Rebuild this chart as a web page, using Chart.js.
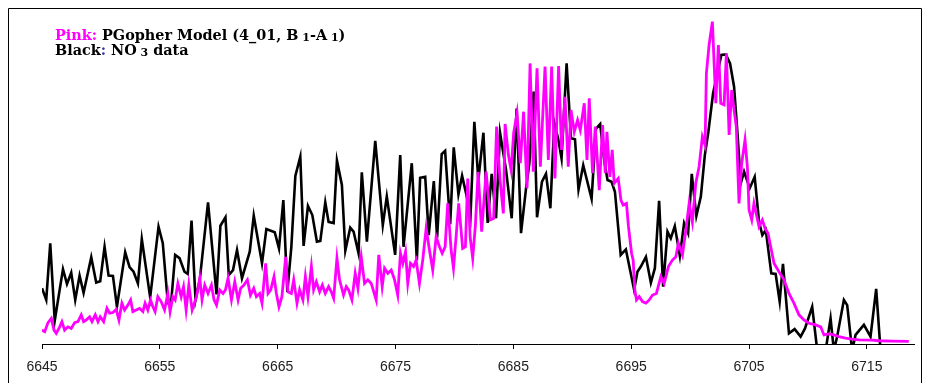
<!DOCTYPE html>
<html>
<head>
<meta charset="utf-8">
<script src="https://cdn.jsdelivr.net/npm/chart.js@4"></script>
<style>
  html, body { margin: 0; padding: 0; background: #fff; }
  #wrap { width: 937px; height: 383px; }
</style>
</head>
<body>
<div id="wrap"><canvas id="chart" width="937" height="383"></canvas></div>
<script>
// NO3 spectrum (black) vs PGopher model (pink), wavelength in Angstrom
const tickValues = [6645, 6655, 6665, 6675, 6685, 6695, 6705, 6715]

const blackWl = [
  6645.00, 6645.36, 6645.70, 6646.08, 6646.78, 6647.12, 6647.48, 6647.82, 6648.19, 6648.53,
  6649.18, 6649.60, 6649.94, 6650.31, 6650.65, 6651.02, 6651.36, 6652.06, 6652.43, 6652.77,
  6653.14, 6653.47, 6654.18, 6654.89, 6655.25, 6655.68, 6655.96, 6656.30, 6656.67, 6657.09,
  6657.37, 6657.69, 6658.03, 6658.39, 6659.09, 6659.81, 6660.14, 6660.57, 6660.85, 6661.21,
  6661.55, 6661.97, 6662.63, 6662.97, 6663.67, 6664.04, 6664.75, 6665.11, 6665.48, 6665.82,
  6666.16, 6666.50, 6666.92, 6667.20, 6667.57, 6667.94, 6668.33, 6668.62, 6669.04, 6669.32,
  6669.75, 6670.03, 6670.45, 6670.74, 6671.16, 6671.44, 6671.86, 6672.14, 6672.57, 6673.28,
  6673.92, 6674.26, 6674.97, 6675.40, 6675.68, 6676.38, 6676.81, 6677.09, 6677.52, 6677.82,
  6678.25, 6678.53, 6678.92, 6679.21, 6679.64, 6679.94, 6680.34, 6680.65, 6680.99, 6681.36,
  6681.69, 6682.03, 6682.46, 6682.82, 6683.16, 6683.53, 6683.87, 6684.38, 6684.86, 6685.28,
  6685.65, 6686.08, 6686.36, 6686.72, 6687.01, 6687.43, 6687.77, 6688.14, 6688.47, 6688.81,
  6689.09, 6689.52, 6689.89, 6690.23, 6690.53, 6690.93, 6691.64, 6692.01, 6692.37, 6692.71,
  6692.99, 6693.33, 6693.62, 6694.11, 6694.55, 6695.25, 6695.53, 6695.82, 6696.25, 6696.67,
  6697.01, 6697.37, 6697.71, 6698.08, 6698.36, 6698.70, 6699.13, 6699.49, 6699.83, 6700.14,
  6700.53, 6700.91, 6701.25, 6701.55, 6701.95, 6702.29, 6702.65, 6703.03, 6703.39, 6703.73,
  6704.03, 6704.30, 6704.58, 6705.06, 6705.48, 6705.85, 6706.13, 6706.42, 6706.89, 6707.26,
  6707.60, 6707.88, 6708.39, 6708.87, 6709.38, 6709.75, 6710.36, 6710.79, 6711.50, 6711.92,
  6712.20, 6712.48, 6713.05, 6713.33, 6713.75, 6714.04, 6714.75, 6715.31, 6715.79, 6716.16
]
const blackInt = [
  17.2, 13.6, 31.1, 7.2, 23.1, 18.5, 22.0, 13.6, 21.1, 15.8,
  26.8, 19.0, 19.4, 30.0, 21.1, 21.0, 11.5, 28.3, 23.7, 22.3,
  18.7, 32.4, 14.4, 36.2, 31.1, 12.6, 12.9, 27.5, 26.5, 22.3,
  21.6, 38.1, 13.6, 19.8, 43.7, 15.3, 36.5, 39.1, 21.3, 22.8,
  29.0, 20.3, 28.5, 39.6, 24.9, 35.5, 34.5, 29.5, 44.4, 16.1,
  30.0, 51.9, 57.8, 30.3, 42.6, 39.8, 31.6, 31.8, 43.7, 37.7,
  37.3, 56.6, 49.1, 28.8, 35.9, 34.7, 28.0, 53.0, 31.6, 62.7,
  36.7, 45.5, 27.5, 58.3, 30.0, 55.8, 25.9, 51.3, 51.6, 33.6,
  50.3, 32.8, 58.6, 59.6, 37.0, 60.7, 46.2, 51.9, 46.5, 39.3,
  68.6, 50.6, 65.2, 37.4, 52.5, 38.8, 65.2, 53.7, 38.8, 72.7,
  34.2, 48.1, 55.8, 77.9, 39.1, 50.1, 52.5, 41.9, 68.3, 63.2,
  57.3, 86.6, 63.5, 63.2, 47.7, 55.2, 44.8, 66.4, 67.9, 56.8,
  50.6, 50.1, 47.0, 27.5, 29.2, 16.7, 22.3, 23.9, 26.9, 18.9,
  23.4, 44.2, 17.7, 34.7, 32.6, 36.4, 27.2, 37.3, 34.2, 52.5,
  39.5, 45.5, 58.3, 65.5, 77.4, 83.0, 89.2, 89.4, 86.6, 79.4,
  64.5, 49.6, 53.2, 48.1, 51.6, 37.7, 33.6, 35.2, 21.8, 21.6,
  13.1, 24.7, 3.3, 4.6, 2.3, 4.8, 11.5, -2.0, -2.0, 7.9,
  -2.0, 2.3, 13.6, 12.0, -2.0, 2.8, 5.9, 2.3, 17.0, -2.0
]

const pinkWl = [
  6645.00, 6645.23, 6645.51, 6645.79, 6646.02, 6646.21, 6646.50, 6646.69, 6646.92, 6647.20,
  6647.48, 6647.77, 6648.05, 6648.33, 6648.53, 6648.75, 6649.04, 6649.24, 6649.52, 6649.75,
  6649.94, 6650.23, 6650.51, 6650.74, 6651.02, 6651.30, 6651.53, 6651.78, 6652.01, 6652.29,
  6652.52, 6652.71, 6652.99, 6653.28, 6653.56, 6653.75, 6653.98, 6654.21, 6654.41, 6654.60,
  6654.83, 6655.11, 6655.40, 6655.68, 6655.87, 6656.10, 6656.30, 6656.53, 6656.81, 6657.01,
  6657.23, 6657.46, 6657.74, 6658.11, 6658.39, 6658.58, 6658.81, 6659.09, 6659.38, 6659.60,
  6659.81, 6660.08, 6660.36, 6660.57, 6660.79, 6661.08, 6661.36, 6661.64, 6661.86, 6662.14,
  6662.43, 6662.69, 6662.97, 6663.19, 6663.47, 6663.67, 6663.98, 6664.18, 6664.41, 6664.69,
  6664.89, 6665.11, 6665.36, 6665.68, 6665.87, 6666.16, 6666.36, 6666.64, 6666.86, 6667.14,
  6667.35, 6667.57, 6667.86, 6668.05, 6668.28, 6668.56, 6668.79, 6669.04, 6669.32, 6669.55,
  6669.75, 6670.03, 6670.25, 6670.59, 6670.82, 6671.02, 6671.30, 6671.58, 6671.81, 6672.09,
  6672.37, 6672.65, 6672.94, 6673.36, 6673.58, 6673.87, 6674.07, 6674.35, 6674.64, 6674.92,
  6675.19, 6675.42, 6675.62, 6675.85, 6676.04, 6676.27, 6676.53, 6676.75, 6677.03, 6677.31,
  6677.60, 6677.88, 6678.16, 6678.45, 6678.73, 6678.96, 6679.21, 6679.43, 6679.72, 6679.92,
  6680.14, 6680.36, 6680.70, 6680.93, 6681.13, 6681.33, 6681.55, 6681.78, 6682.01, 6682.31,
  6682.69, 6683.05, 6683.33, 6683.58, 6683.87, 6684.15, 6684.30, 6684.58, 6684.81, 6685.03,
  6685.31, 6685.59, 6685.87, 6686.16, 6686.42, 6686.69, 6687.01, 6687.29, 6687.69, 6687.97,
  6688.25, 6688.53, 6688.84, 6689.09, 6689.38, 6689.66, 6689.89, 6690.17, 6690.45, 6690.68,
  6691.02, 6691.25, 6691.44, 6691.72, 6691.95, 6692.29, 6692.57, 6692.80, 6692.94, 6693.19,
  6693.39, 6693.56, 6693.90, 6694.13, 6694.32, 6694.60, 6694.77, 6695.03, 6695.17, 6695.31,
  6695.45, 6695.68, 6695.96, 6696.25, 6696.53, 6696.81, 6697.14, 6697.52, 6697.80, 6698.16,
  6698.50, 6698.79, 6699.01, 6699.35, 6699.64, 6699.92, 6700.19, 6700.48, 6700.76, 6701.04,
  6701.27, 6701.38, 6701.61, 6701.89, 6702.18, 6702.40, 6702.60, 6702.88, 6703.08, 6703.31,
  6703.53, 6703.73, 6703.92, 6704.15, 6704.38, 6704.66, 6704.86, 6705.00, 6705.23, 6705.42,
  6705.85, 6706.13, 6706.36, 6706.61, 6706.86, 6707.12, 6707.54, 6707.97, 6708.39, 6708.81,
  6709.24, 6709.66, 6710.08, 6710.65, 6711.08, 6711.36, 6711.78, 6712.20, 6712.63, 6713.19,
  6713.75, 6714.32, 6715.45, 6716.02, 6717.14, 6718.56
]
const pinkInt = [
  4.3, 3.8, 6.6, 7.9, 4.3, 3.3, 5.3, 6.9, 4.3, 5.3,
  4.8, 6.6, 6.9, 9.0, 6.9, 7.4, 8.4, 6.9, 9.0, 6.9,
  8.4, 6.9, 11.0, 9.5, 9.7, 10.7, 7.4, 12.6, 10.5, 12.0,
  13.6, 10.0, 10.5, 11.0, 10.0, 12.6, 10.5, 13.6, 11.5, 10.0,
  14.6, 13.1, 10.5, 15.6, 10.0, 14.6, 13.6, 18.7, 14.6, 17.7,
  10.5, 18.2, 10.5, 14.6, 20.3, 13.6, 18.2, 15.6, 18.2, 13.6,
  12.0, 16.7, 15.6, 16.7, 20.3, 13.6, 19.2, 13.6, 17.2, 18.2,
  19.8, 15.1, 17.2, 14.6, 15.6, 12.6, 24.9, 15.6, 16.7, 20.8,
  15.6, 11.5, 14.6, 26.9, 16.1, 15.6, 19.8, 12.6, 16.7, 13.6,
  20.8, 14.6, 23.9, 16.7, 19.2, 16.1, 18.2, 15.6, 17.7, 16.1,
  14.1, 26.5, 19.8, 15.1, 17.7, 16.7, 13.6, 21.8, 17.2, 26.9,
  18.7, 19.8, 18.7, 13.6, 27.5, 17.7, 23.4, 21.8, 22.8, 19.8,
  15.1, 28.0, 24.9, 28.5, 18.7, 24.9, 23.9, 25.9, 18.7, 25.9,
  35.7, 29.0, 22.8, 33.1, 30.0, 28.0, 30.0, 43.4, 29.0, 23.4,
  33.1, 43.4, 29.5, 30.0, 51.1, 33.1, 26.5, 36.7, 53.1, 34.7,
  53.2, 38.3, 38.8, 67.1, 50.6, 40.3, 67.9, 58.3, 53.7, 65.2,
  71.2, 55.8, 71.7, 48.1, 86.6, 53.2, 85.1, 54.7, 85.6, 56.8,
  85.6, 51.1, 85.8, 59.9, 76.3, 54.7, 72.2, 65.5, 69.1, 66.0,
  74.3, 56.8, 75.8, 52.7, 67.1, 47.5, 67.6, 52.7, 65.5, 51.6,
  59.9, 49.6, 51.1, 44.4, 42.9, 43.4, 36.2, 28.0, 25.9, 16.7,
  13.6, 14.6, 13.1, 12.6, 13.6, 15.1, 15.6, 20.8, 18.7, 23.9,
  25.9, 26.9, 31.1, 27.5, 35.2, 43.4, 37.7, 49.6, 54.7, 64.0,
  61.4, 83.5, 92.3, 99.5, 74.3, 92.3, 74.3, 73.8, 89.7, 64.5,
  78.4, 72.2, 67.1, 43.4, 55.8, 63.0, 54.7, 41.4, 38.3, 43.4,
  36.2, 38.3, 35.7, 34.2, 29.6, 24.9, 22.3, 19.8, 15.6, 12.6,
  9.0, 7.4, 6.4, 5.9, 5.3, 2.8, 3.1, 2.8, 2.3, 1.8,
  1.5, 1.3, 1.2, 1.0, 0.9, 0.8
]

const toPoints = (xs, ys) => xs.map((x, i) => ({ x, y: ys[i] }))

// white card with a thin black frame, like the pasted Excel chart
const framePlugin = {
  id: 'frame',
  beforeDraw(chart) {
    const ctx = chart.ctx
    ctx.save()
    ctx.fillStyle = '#fff'
    ctx.fillRect(0, 0, chart.width, chart.height)
    ctx.strokeStyle = '#000'
    ctx.lineWidth = 1
    ctx.beginPath()
    ctx.moveTo(8.5, chart.height + 2)
    ctx.lineTo(8.5, 8.5)
    ctx.lineTo(921.5, 8.5)
    ctx.lineTo(921.5, chart.height + 2)
    ctx.stroke()
    ctx.restore()
  }
}

// two-line caption in the top left, with subscripts
const captionLines = [
  [{ t: 'Pink:', c: '#ff00ff' }, { t: ' PGopher Model (4_01, B' }, { t: '1', sub: true },
   { t: '-A' }, { t: '1', sub: true }, { t: ')' }],
  [{ t: 'Black' }, { t: ':', c: '#333399' }, { t: ' NO' }, { t: '3', sub: true }, { t: ' data' }]
]

const captionPlugin = {
  id: 'caption',
  afterDraw(chart) {
    const ctx = chart.ctx
    const family = '"DejaVu Serif", "Liberation Serif", serif'
    ctx.save()
    ctx.textBaseline = 'alphabetic'
    captionLines.forEach((runs, row) => {
      let x = 55
      const base = 40 + row * 14.5
      for (const run of runs) {
        ctx.font = run.sub ? `bold 11px ${family}` : `bold 14.4px ${family}`
        ctx.fillStyle = run.c || '#000'
        const text = run.sub ? ' ' + run.t : run.t
        ctx.fillText(text, x, run.sub ? base + 1 : base)
        x += ctx.measureText(text).width
      }
    })
    ctx.restore()
  }
}

new Chart('chart', {
  type: 'line',
  data: {
    datasets: [
      {
        label: 'PGopher model',
        data: toPoints(pinkWl, pinkInt),
        borderColor: '#ff00ff',
        borderWidth: 2.8,
        pointRadius: 0,
        tension: 0,
        order: 1
      },
      {
        label: 'NO3 data',
        data: toPoints(blackWl, blackInt),
        borderColor: '#000000',
        borderWidth: 2.6,
        pointRadius: 0,
        tension: 0,
        order: 2
      }
    ]
  },
  options: {
    responsive: false,
    animation: false,
    devicePixelRatio: 1,
    layout: { padding: { left: 42, right: 23, top: 20, bottom: 0 } },
    plugins: {
      legend: { display: false },
      tooltip: { enabled: false }
    },
    scales: {
      x: {
        type: 'linear',
        min: 6645,
        max: 6719,
        afterBuildTicks: axis => { axis.ticks = tickValues.map(value => ({ value })) },
        afterFit: scale => { scale.height = 39 },
        border: { display: true, color: '#000', width: 1 },
        grid: { drawOnChartArea: false, drawTicks: true, tickLength: 5, color: '#000' },
        ticks: {
          color: '#222',
          padding: 10,
          maxRotation: 0,
          autoSkip: false,
          font: { family: '"Liberation Sans", Arial, sans-serif', size: 14 },
          callback: value => String(value)
        }
      },
      y: {
        display: false,
        min: 0,
        max: 100
      }
    }
  },
  plugins: [framePlugin, captionPlugin]
})
</script>
</body>
</html>
